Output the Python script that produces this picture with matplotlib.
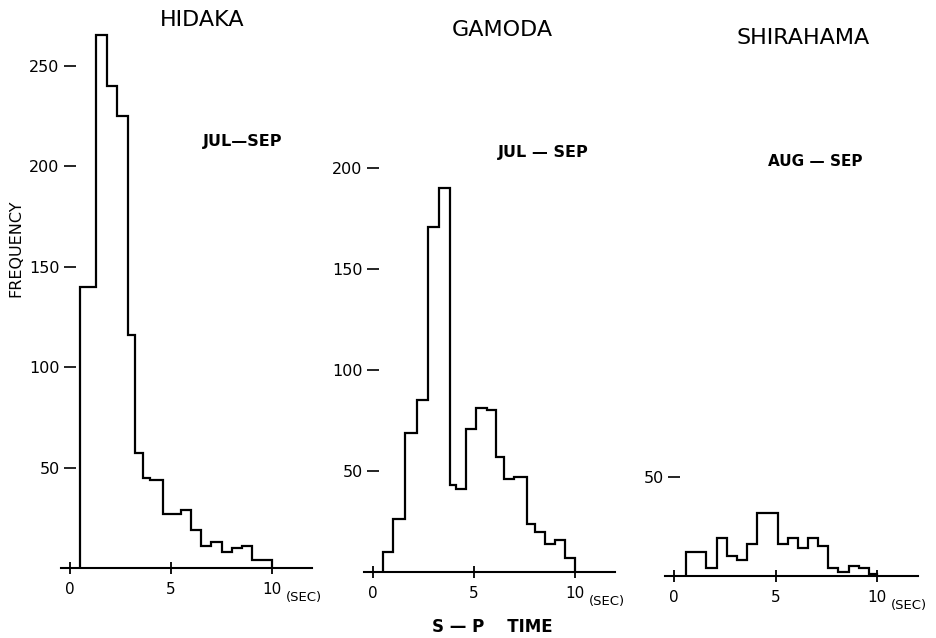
import numpy as np
import matplotlib
matplotlib.use("Agg")
import matplotlib.pyplot as plt

# S-P time histograms (bin edges in sec, counts)
hidaka_edges = [0.5, 1.3, 1.85, 2.35, 2.85, 3.2, 3.6, 3.95, 4.6, 5.5, 6.0, 6.5,
                7.0, 7.5, 8.0, 8.5, 9.0, 10.0]
hidaka_counts = [140, 265, 240, 225, 116, 57, 45, 44, 27, 29, 19, 11, 13, 8, 10, 11, 4]

gamoda_edges = [0.5, 1.0, 1.6, 2.2, 2.7, 3.27, 3.8, 4.1, 4.6, 5.1, 5.65, 6.1, 6.5,
                7.0, 7.6, 8.0, 8.5, 9.0, 9.5, 10.0]
gamoda_counts = [10, 26, 69, 85, 171, 190, 43, 41, 71, 81, 80, 57, 46, 47, 24, 20, 14, 16, 7]

shirahama_edges = [0.6, 1.6, 2.1, 2.6, 3.1, 3.6, 4.1, 5.1, 5.6, 6.1, 6.6, 7.1, 7.6,
                   8.1, 8.6, 9.1, 9.6, 10.0]
shirahama_counts = [12, 4, 19, 10, 8, 16, 32, 16, 19, 14, 19, 15, 4, 2, 5, 4, 1]

stations = ["HIDAKA", "GAMODA", "SHIRAHAMA"]
periods = ["JUL\u2014SEP", "JUL \u2014 SEP", "AUG \u2014 SEP"]
yticks = [[50, 100, 150, 200, 250], [50, 100, 150, 200], [50]]
xticks = [0, 5, 10]

W, H = 936, 638
fig = plt.figure(figsize=(W / 100, H / 100), dpi=100)

# pixel layout: x of 0 sec, px per sec, baseline y, px per count, ylim top
layout = [(70, 20.2, 568, 2.01, 270),
          (373, 20.2, 572, 2.02, 205),
          (674, 20.3, 576, 1.98, 60)]
xlo, xhi = -1.0, 12.2

data = [(hidaka_edges, hidaka_counts), (gamoda_edges, gamoda_counts),
        (shirahama_edges, shirahama_counts)]

for i, ((x0, pxs, base, pxc, ytop), (edges, counts)) in enumerate(zip(layout, data)):
    left = x0 + xlo * pxs
    width = (xhi - xlo) * pxs
    height = ytop * pxc
    ax = fig.add_axes([left / W, (H - base) / H, width / W, height / H])
    ax.stairs(counts, edges, color="black", lw=1.6, baseline=0, clip_on=False)
    ax.set_xlim(xlo, xhi)
    ax.set_ylim(0, ytop)
    for s in ["top", "right", "left"]:
        ax.spines[s].set_visible(False)
    ax.spines["left"].set_position(("data", 0))
    ax.spines["bottom"].set_bounds(-0.45, 12.0)
    ax.spines["bottom"].set_linewidth(1.5)
    ax.set_xticks(xticks)
    ax.set_xticklabels([str(t) for t in xticks], fontsize=11)
    ax.tick_params(axis="x", direction="inout", length=8, width=1.3, pad=6)
    ax.set_yticks(yticks[i])
    ax.set_yticklabels([str(t) for t in yticks[i]], fontsize=11.5)
    ax.tick_params(axis="y", direction="inout", length=9, width=1.2, pad=3)
    ax.patch.set_alpha(0)
    # (SEC) unit next to 10
    ax.annotate("(SEC)", xy=(10.7, 0), xycoords=ax.get_xaxis_transform(),
                xytext=(0, -21), textcoords="offset points",
                fontsize=9.5, ha="left", va="center")

def fx(px):
    return px / W

def fy(py):
    return 1 - py / H

fig.text(fx(202), fy(20), stations[0], fontsize=16, ha="center", va="center")
fig.text(fx(502), fy(30), stations[1], fontsize=16, ha="center", va="center")
fig.text(fx(803), fy(38), stations[2], fontsize=16, ha="center", va="center")

fig.text(fx(243), fy(142), periods[0], fontsize=11.5, fontweight="bold", ha="center", va="center")
fig.text(fx(543), fy(152), periods[1], fontsize=11.5, fontweight="bold", ha="center", va="center")
fig.text(fx(815), fy(162), periods[2], fontsize=11, fontweight="bold", ha="center", va="center")

fig.text(fx(16), fy(248), "FREQUENCY", fontsize=11.5, rotation=90, ha="center", va="center")
fig.text(fx(492), fy(627), "S \u2014 P    TIME", fontsize=12, fontweight="bold",
         ha="center", va="center")

fig.savefig("out.png", dpi=100)
